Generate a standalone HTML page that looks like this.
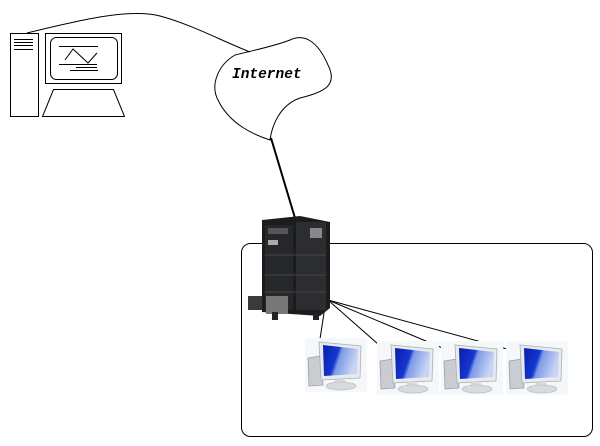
<!DOCTYPE html>
<html><head><style>html,body{margin:0;padding:0;background:#fff;width:600px;height:446px;overflow:hidden}</style></head>
<body>
<svg width="600" height="446" viewBox="0 0 600 446" xmlns="http://www.w3.org/2000/svg">
<defs>
<linearGradient id="scr" x1="0" y1="0" x2="1" y2="0.3">
<stop offset="0" stop-color="#0a1fa8"/><stop offset="0.45" stop-color="#1437d0"/><stop offset="0.55" stop-color="#7d9ae8"/><stop offset="1" stop-color="#c8d4f4"/></linearGradient>
<g id="mon">
<rect x="0" y="0" width="62" height="54" fill="#f5f8fb"/>
<path d="M3 20 L16 18 L18 47 L4 48 Z" fill="#c9ccd0" stroke="#9aa0a6" stroke-width="0.8"/>
<path d="M14 4 L56 8 L55 40 L16 42 Z" fill="#e8ebee" stroke="#a9aeb3" stroke-width="0.8"/>
<path d="M18 7 L53 11 L52 36 L19 38 Z" fill="url(#scr)"/>
<path d="M30 42 L40 42 L42 46 L28 47Z" fill="#d5d8dc"/>
<ellipse cx="36" cy="48" rx="15" ry="4" fill="#d8dbde" stroke="#b4b8bc" stroke-width="0.6"/>
</g>
</defs>
<g fill="none" stroke="#000" stroke-width="1">
<rect x="10.5" y="33.5" width="28" height="83"/>
<line x1="14" y1="39.5" x2="33" y2="39.5"/><line x1="14" y1="42.5" x2="33" y2="42.5"/><line x1="14" y1="45.5" x2="33" y2="45.5"/><line x1="14" y1="49.5" x2="33" y2="49.5"/>
<rect x="45.5" y="33.5" width="76" height="50"/>
<rect x="50.5" y="37.5" width="67" height="42" rx="6"/>
<line x1="59" y1="46.5" x2="98" y2="46.5"/>
<polyline points="65,60 73,49 88,63 97,53"/>
<line x1="59" y1="64.5" x2="97" y2="64.5"/>
<line x1="70" y1="70.5" x2="98" y2="70.5"/><line x1="76" y1="67.5" x2="97" y2="67.5"/>
<path d="M53.5 89.5 L113.5 89.5 L124.5 116.5 L42.5 116.5 Z"/>
<path d="M27 33 C80 20, 130 8, 160 16 C190 24, 220 40, 250 52"/>
<path d="M235 55 C218 65, 210 85, 218 100 C230 125, 255 135, 270 140 C272 125, 280 105, 300 98 C325 92, 338 85, 328 65 C318 42, 305 33, 290 40 C275 46, 255 50, 235 55 Z"/>
<line x1="271" y1="138" x2="295" y2="218" stroke-width="2"/>
<rect x="241.5" y="243.5" width="351" height="193" rx="9"/>
<line x1="326" y1="300" x2="318" y2="352"/>
<line x1="328" y1="300" x2="387" y2="352"/>
<line x1="328" y1="300" x2="452" y2="352"/>
<line x1="328" y1="300" x2="518" y2="352"/>
</g>
<text x="232" y="78" font-family="Liberation Mono, monospace" font-style="italic" font-weight="bold" font-size="14.5">Internet</text>
<g>
<path d="M262 220 L300 216 L330 222 L330 308 L320 316 L262 312 Z" fill="#1b1c1e"/>
<rect x="265" y="225" width="28" height="85" fill="#26272a"/>
<rect x="296" y="222" width="30" height="88" fill="#2c2d30"/>
<rect x="268" y="228" width="20" height="6" fill="#555"/>
<rect x="268" y="240" width="10" height="5" fill="#aaa"/>
<line x1="265" y1="255" x2="326" y2="255" stroke="#444"/>
<line x1="265" y1="275" x2="326" y2="275" stroke="#444"/>
<line x1="265" y1="292" x2="326" y2="292" stroke="#444"/>
<rect x="248" y="296" width="14" height="14" fill="#3a3a3a"/>
<rect x="266" y="296" width="22" height="18" fill="#777"/>
<rect x="310" y="228" width="12" height="10" fill="#888"/>
<rect x="272" y="312" width="6" height="8" fill="#222"/>
<rect x="313" y="314" width="6" height="6" fill="#222"/>
</g>
<use href="#mon" x="305" y="338"/>
<use href="#mon" x="377" y="341"/>
<use href="#mon" x="441" y="341"/>
<use href="#mon" x="506" y="341"/>
</svg>
</body></html>
